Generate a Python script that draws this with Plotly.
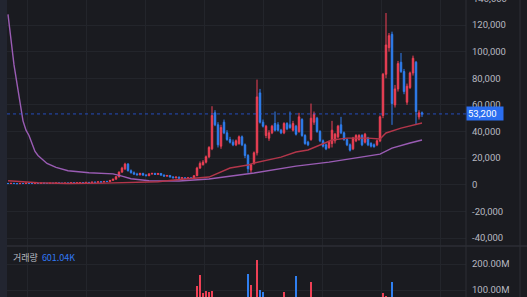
import plotly.graph_objects as go

# ---------------- data (prices in thousands of KRW, volume in millions) ----------------
open_k = [1.0,0.9,1.1,0.9,0.8,1.0,0.9,1.2,1.0,0.9,1.1,1.0,1.3,1.1,1.0,1.2,1.1,1.4,1.2,1.1,
          1.3,1.2,1.5,1.3,1.5,1.6,1.4,1.8,1.6,2.0,1.8,2.2,2.0,2.5,2.4,3.3,4.2,6.0,9.5,12.0,
          15.5,10.5,9.0,8.0,7.5,8.5,7.2,6.8,8.2,8.5,7.8,8.5,7.2,6.5,7.0,5.8,5.2,5.8,4.8,5.3,
          4.7,5.2,4.8,6.8,12.5,15.0,17.0,21.0,27.0,54.0,45.0,29.0,47.0,39.0,34.0,32.0,30.0,31.0,36.0,30.0,
          22.0,11.0,16.0,24.0,69.0,47.0,37.0,35.0,39.0,46.0,45.0,41.0,39.0,46.0,45.0,41.0,44.0,40.0,49.0,37.0,
          32.0,34.0,47.0,50.0,40.0,33.0,30.0,28.0,31.0,33.0,36.0,45.0,39.0,34.0,30.0,27.0,33.0,34.0,37.0,32.0,
          35.0,31.0,30.0,30.0,33.0,52.0,83.0,103.0,113.0,60.0,72.0,92.0,85.0,62.0,73.0,84.0,92.0,51.0,54.0]
high_k = [1.3,1.2,1.3,1.1,1.2,1.2,1.3,1.4,1.2,1.3,1.3,1.4,1.5,1.3,1.4,1.4,1.5,1.6,1.4,1.5,
          1.5,1.6,1.7,1.6,1.8,1.8,1.9,2.0,2.1,2.2,2.3,2.5,2.6,3.0,3.5,4.5,6.5,10.0,13.5,16.5,
          16.3,11.5,10.0,9.0,9.0,9.0,8.0,8.5,9.0,9.0,8.8,8.8,7.8,7.2,7.2,6.5,6.0,6.0,5.5,5.6,
          5.5,5.5,7.0,13.5,17.5,18.5,22.0,29.0,59.0,56.0,47.0,45.0,49.0,41.0,36.0,34.0,34.0,37.0,37.0,31.0,
          23.0,16.0,25.0,79.0,72.0,49.0,45.0,41.0,45.0,55.0,47.0,42.0,47.0,47.0,55.0,48.0,45.0,54.0,50.0,38.0,
          33.0,61.0,55.0,51.0,41.0,34.0,31.0,33.0,48.0,39.0,45.0,51.0,40.0,35.0,31.0,36.0,38.0,38.0,38.0,39.0,
          36.0,32.0,31.0,34.0,52.0,84.0,129.0,114.0,115.0,75.0,93.0,99.0,87.0,76.0,85.0,97.0,93.0,56.0,55.0]
low_k = [0.8,0.7,0.8,0.7,0.7,0.8,0.8,0.9,0.8,0.8,0.9,0.9,1.0,0.9,0.9,1.0,1.0,1.1,1.0,1.0,
         1.1,1.1,1.2,1.2,1.3,1.3,1.3,1.5,1.5,1.6,1.7,1.9,1.9,2.2,2.3,3.0,4.0,5.5,9.0,11.0,
         10.0,8.5,7.5,7.0,7.0,7.0,6.5,6.5,7.5,7.5,7.5,7.0,6.2,6.0,5.5,5.0,4.8,4.5,4.5,4.5,
         4.3,4.5,4.6,6.5,12.0,14.5,16.0,20.0,26.0,44.0,28.0,27.0,38.0,33.0,31.0,29.0,29.0,30.0,29.0,20.0,
         9.0,9.0,15.0,22.0,46.0,43.0,35.0,33.0,38.0,40.0,40.0,38.0,38.0,41.0,42.0,40.0,37.0,39.0,36.0,30.0,
         29.0,33.0,45.0,39.0,32.0,28.0,26.0,27.0,28.0,31.0,35.0,38.0,33.0,29.0,25.0,26.0,32.0,33.0,29.0,31.0,
         29.0,28.0,28.0,29.0,32.0,50.0,80.0,100.0,45.0,58.0,70.0,84.0,68.0,60.0,72.0,82.0,45.0,49.0,51.0]
close_k = [0.9,1.1,0.9,0.8,1.0,0.9,1.2,1.0,0.9,1.1,1.0,1.3,1.1,1.0,1.2,1.1,1.4,1.2,1.1,1.3,
           1.2,1.5,1.3,1.5,1.6,1.4,1.8,1.6,2.0,1.8,2.2,2.0,2.5,2.4,3.3,4.2,6.0,9.5,12.5,15.5,
           10.5,9.0,8.0,7.5,8.5,7.2,6.8,8.2,8.5,7.8,8.5,7.2,6.5,7.0,5.8,5.2,5.8,4.8,5.3,4.7,
           5.2,4.8,6.8,12.5,16.0,17.0,21.0,28.0,52.0,45.0,30.0,43.0,39.0,34.0,32.0,30.0,33.0,36.0,30.0,22.0,
           12.0,15.0,24.0,66.0,47.0,44.0,44.0,39.0,44.0,41.0,41.0,39.0,46.0,42.0,43.0,46.0,38.0,51.0,37.0,31.0,
           30.0,50.0,53.0,40.0,33.0,29.0,27.0,32.0,41.0,38.0,44.0,39.0,34.0,30.0,26.0,35.0,37.0,37.0,30.0,38.0,
           30.0,29.0,28.5,33.0,51.0,83.0,105.0,112.0,61.0,72.0,91.0,85.0,70.0,74.0,84.0,95.0,55.0,54.0,53.2]
volume_m = [2,1,3,1,2,1,2,3,1,2,1,2,3,2,1,2,3,2,2,1,
            2,3,2,2,3,2,3,2,4,3,4,3,5,4,8,10,15,30,40,50,
            35,20,15,12,14,12,10,13,14,11,12,10,9,8,9,8,7,8,6,7,
            6,7,12,115,158,88,96,92,96,60,45,50,30,25,20,18,22,20,30,40,
            162,119,60,215,100,92,40,30,28,45,30,25,92,30,55,35,154,60,40,30,
            25,131,55,40,30,25,20,22,60,30,35,45,25,20,22,25,20,18,22,25,
            18,15,15,20,60,88,77,65,131,50,60,55,45,35,40,50,55,15,0.60104]

# moving averages, sampled at candle indices (thousands)
ma_short_idx = [0,10,20,32,50,57,67,74,80,82,91,96,100,104,108,113,120,124,126,131,135,138]
ma_short_val = [3.0,1.5,1.0,1.2,2.3,4.0,5.8,12.6,14.8,16.3,20.8,24.6,26.1,29.9,33.6,35.0,35.0,34.4,38.9,42.6,44.9,46.4]
ma_long_idx = [0,1,2,3,4,5,6,7,8,9,10,11,13,16,20,27,35,38,41,47,57,67,82,96,107,124,128,134,138]
ma_long_val = [128,108,90,76,60,48,41,37,31,25,22,20,16,13,10.5,9,8.2,6.5,4.5,3.0,2.8,4.3,8.8,14,17,23,27.5,31.4,33.6]

price_ticks = [-40000,-20000,0,20000,40000,60000,80000,100000,120000]
price_tick_text = ["-40,000","-20,000","0","20,000","40,000","60,000","80,000","100,000","120,000"]
vol_ticks = [100e6, 200e6]
vol_tick_text = ["100.00M", "200.00M"]
last_price = 53200
last_price_text = "53,200"
volume_label = "거래량"
volume_last_text = "601.04K"

# ---------------- styling ----------------
W, H = 527, 297
BG = "#1a1b20"
RED = "#ee4055"
BLUE = "#2f7ff0"
GRID = "#23252b"
TXT = "#b7b9c0"
LINE = "#2c2e35"

idx = list(range(len(close_k)))
o = [v * 1000 for v in open_k]
h = [v * 1000 for v in high_k]
l = [v * 1000 for v in low_k]
c = [v * 1000 for v in close_k]
vol = [v * 1e6 for v in volume_m]
vol_colors = [RED if cc >= oo else BLUE for oo, cc in zip(open_k, close_k)]

x0p = 7 / W
x1p = 466 / W
split = 51 / H

fig = go.Figure()
fig.add_trace(go.Scatter(x=ma_long_idx, y=[v * 1000 for v in ma_long_val], mode="lines",
                         line=dict(color="#9a5cb4", width=1.4), xaxis="x", yaxis="y", hoverinfo="skip"))
fig.add_trace(go.Scatter(x=ma_short_idx, y=[v * 1000 for v in ma_short_val], mode="lines",
                         line=dict(color="#b3364a", width=1.4), xaxis="x", yaxis="y", hoverinfo="skip"))
fig.add_trace(go.Candlestick(x=idx, open=o, high=h, low=l, close=c,
                             increasing=dict(line=dict(color=RED, width=1), fillcolor=RED),
                             decreasing=dict(line=dict(color=BLUE, width=1), fillcolor=BLUE),
                             whiskerwidth=0, xaxis="x", yaxis="y"))
fig.add_trace(go.Bar(x=idx, y=vol, marker=dict(color=vol_colors, line=dict(width=0)),
                     xaxis="x2", yaxis="y2"))

xr = [(7 - 8) / 3, (466 - 8) / 3]
common_x = dict(range=xr, showticklabels=False, showgrid=True, gridcolor=GRID, gridwidth=1,
                tick0=(27 - 8) / 3, dtick=59 / 3, zeroline=False, showline=False, ticks="")
fig.update_layout(
    width=W, height=H, margin=dict(l=0, r=0, t=0, b=0),
    paper_bgcolor=BG, plot_bgcolor=BG, showlegend=False, bargap=0.35,
    font=dict(family="Roboto", size=9.5, color=TXT),
    xaxis=dict(domain=[x0p, x1p], anchor="y", rangeslider=dict(visible=False), **common_x),
    xaxis2=dict(domain=[x0p, x1p], anchor="y2", matches="x", **common_x),
    yaxis=dict(domain=[split, 1], range=[-46000, 138780], side="right", anchor="x",
               tickvals=price_ticks, ticktext=price_tick_text, showgrid=True, gridcolor=GRID,
               zeroline=False, ticks="", ticklabelstandoff=5, tickfont=dict(color=TXT)),
    yaxis2=dict(domain=[0, split], range=[73.1e6, 269.2e6], side="right", anchor="x2",
                tickvals=vol_ticks, ticktext=vol_tick_text, showgrid=True, gridcolor=GRID,
                zeroline=False, ticks="", ticklabelstandoff=5, tickfont=dict(color=TXT)),
)

shapes = [
    dict(type="rect", xref="paper", yref="paper", x0=0, x1=x0p, y0=0, y1=1,
         fillcolor="#222530", line=dict(width=0), layer="above"),
    dict(type="line", xref="paper", yref="paper", x0=x0p, x1=1, y0=split, y1=split,
         line=dict(color=LINE, width=1.5)),
    dict(type="line", xref="paper", yref="paper", x0=x1p, x1=x1p, y0=0, y1=1,
         line=dict(color=LINE, width=1)),
    dict(type="line", xref="paper", yref="paper", x0=520 / W, x1=520 / W, y0=0, y1=1,
         line=dict(color=LINE, width=1)),
    dict(type="line", xref="paper", yref="y", x0=x0p, x1=x1p, y0=last_price, y1=last_price,
         line=dict(color="#2962ff", width=1, dash="dot"), opacity=0.7),
]
fig.update_layout(shapes=shapes)

fig.add_annotation(xref="paper", yref="y", x=x1p, y=last_price, xanchor="left", yanchor="middle",
                   text=last_price_text, showarrow=False, bgcolor="#2b6ef0",
                   font=dict(color="#ffffff", size=9.5, family="Roboto"), borderpad=1,
                   width=34, align="left")
fig.add_annotation(xref="paper", yref="paper", x=471 / W, y=1 + 1.6 / H, xanchor="left", yanchor="middle",
                   text="140,000", showarrow=False, font=dict(color=TXT, size=9.5, family="Roboto"))
fig.add_annotation(xref="paper", yref="paper", x=11 / W, y=1 - 257 / H, xanchor="left", yanchor="middle",
                   text=f"{volume_label}  <span style='color:#3179f5'>{volume_last_text}</span>",
                   showarrow=False, font=dict(color=TXT, size=9, family="Noto Sans CJK KR"))

fig.write_html("out.html")
